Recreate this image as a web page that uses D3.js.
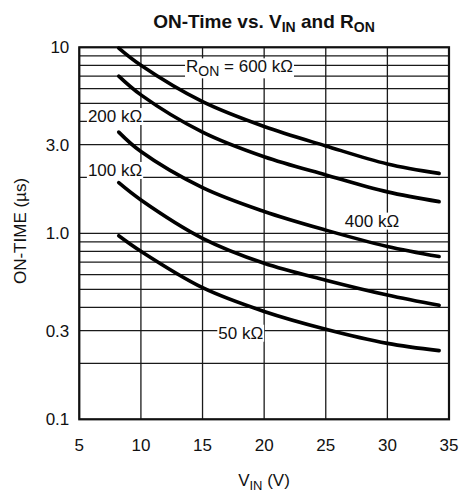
<!DOCTYPE html>
<html>
<head>
<meta charset="utf-8">
<script src="https://cdn.jsdelivr.net/npm/d3@7"></script>
<style>
  body { margin: 0; background: #fff; }
  text { font-family: "Liberation Sans", Arial, sans-serif; fill: #111; }
</style>
</head>
<body>
<div id="root"></div>
<script>
const width = 460
const height = 492
const margin = { top: 47.3, right: 11, bottom: 72.7, left: 79.3 }

// V_IN (V) where each curve was read
const vin = [8.2, 10, 15, 20, 25, 30, 34.2]
// ON-time (µs) per R_ON curve
const on600 = [9.9, 8.0, 5.1, 3.75, 2.95, 2.36, 2.10]
const on400 = [7.0, 5.55, 3.5, 2.58, 2.06, 1.67, 1.48]
const on200 = [3.5, 2.75, 1.76, 1.31, 1.04, 0.85, 0.75]
const on100 = [1.87, 1.51, 0.94, 0.69, 0.56, 0.466, 0.41]
const on50 = [0.97, 0.80, 0.51, 0.38, 0.305, 0.256, 0.234]
const series = [on600, on400, on200, on100, on50]

const yTickValues = [10, 3, 1, 0.3, 0.1]
const yTickLabels = ['10', '3.0', '1.0', '0.3', '0.1']
const xTickValues = [5, 10, 15, 20, 25, 30, 35]

// curve labels: text, V_IN, ON-time at label centre
const labels = [
  { name: '600', pre: 'R', sub: 'ON', text: ' = 600 kΩ', x: 18.0, y: 7.9 },
  { name: '200', text: '200 kΩ', x: 7.9, y: 4.27 },
  { name: '100', text: '100 kΩ', x: 7.9, y: 2.19 },
  { name: '400', text: '400 kΩ', x: 28.75, y: 1.17 },
  { name: '50', text: '50 kΩ', x: 18.1, y: 0.292 }
]

const svg = d3.select('#root').append('svg')
  .attr('width', width)
  .attr('height', height)

const x = d3.scaleLinear()
  .domain([5, 35])
  .range([margin.left, width - margin.right])

const y = d3.scaleLog()
  .domain([0.1, 10])
  .range([height - margin.bottom, margin.top])

// grid
const grid = svg.append('g')
  .attr('stroke', '#1a1a1a')
  .attr('stroke-width', 1.3)

grid.selectAll('.hg')
  .data(y.ticks())
  .enter().append('line')
    .attr('x1', x(5))
    .attr('x2', x(35))
    .attr('y1', d => y(d))
    .attr('y2', d => y(d))

grid.selectAll('.vg')
  .data(xTickValues)
  .enter().append('line')
    .attr('x1', d => x(d))
    .attr('x2', d => x(d))
    .attr('y1', y(0.1))
    .attr('y2', y(10))

svg.append('rect')
  .attr('x', x(5))
  .attr('y', y(10))
  .attr('width', x(35) - x(5))
  .attr('height', y(0.1) - y(10))
  .attr('fill', 'none')
  .attr('stroke', '#111')
  .attr('stroke-width', 2.2)

// curves
const line = d3.line()
  .x((d, i) => x(vin[i]))
  .y(d => y(d))
  .curve(d3.curveCatmullRom.alpha(0.5))

svg.selectAll('.curve')
  .data(series)
  .enter().append('path')
    .attr('d', line)
    .attr('fill', 'none')
    .attr('stroke', '#000')
    .attr('stroke-width', 3.6)
    .attr('stroke-linecap', 'round')

// curve labels on white boxes
labels.forEach(l => {
  const g = svg.append('g')
  const t = g.append('text')
    .attr('x', x(l.x))
    .attr('y', y(l.y) + 6)
    .attr('text-anchor', 'middle')
    .style('font-size', '17px')
  if (l.pre) {
    t.append('tspan').text(l.pre)
    t.append('tspan').text(l.sub).attr('dy', 4).style('font-size', '14px')
    t.append('tspan').text(l.text).attr('dy', -4)
  } else {
    t.text(l.text)
  }
  const b = t.node().getBBox()
  g.insert('rect', 'text')
    .attr('x', b.x - 1)
    .attr('y', b.y + 1)
    .attr('width', b.width + 2)
    .attr('height', b.height - 2)
    .attr('fill', '#fff')
})

// tick labels
svg.selectAll('.ytl')
  .data(yTickValues)
  .enter().append('text')
    .attr('x', margin.left - 10)
    .attr('y', d => y(d) + 6)
    .attr('text-anchor', 'end')
    .style('font-size', '17px')
    .text((d, i) => yTickLabels[i])

svg.selectAll('.xtl')
  .data(xTickValues)
  .enter().append('text')
    .attr('x', d => x(d))
    .attr('y', height - margin.bottom + 32)
    .attr('text-anchor', 'middle')
    .style('font-size', '17px')
    .text(d => d)

// titles
const title = svg.append('text')
  .attr('x', 264)
  .attr('y', 28)
  .attr('text-anchor', 'middle')
  .style('font-size', '19px')
  .style('font-weight', 'bold')
title.append('tspan').text('ON-Time vs. V')
title.append('tspan').text('IN').attr('dy', 4).style('font-size', '14px')
title.append('tspan').text(' and R').attr('dy', -4)
title.append('tspan').text('ON').attr('dy', 4).style('font-size', '14px')

const xt = svg.append('text')
  .attr('x', 264)
  .attr('y', 486)
  .attr('text-anchor', 'middle')
  .style('font-size', '17px')
xt.append('tspan').text('V')
xt.append('tspan').text('IN').attr('dy', 4).style('font-size', '13px')
xt.append('tspan').text(' (V)').attr('dy', -4)

svg.append('text')
  .attr('transform', 'translate(26,231) rotate(-90)')
  .attr('text-anchor', 'middle')
  .style('font-size', '17px')
  .text('ON-TIME (µs)')
</script>
</body>
</html>
